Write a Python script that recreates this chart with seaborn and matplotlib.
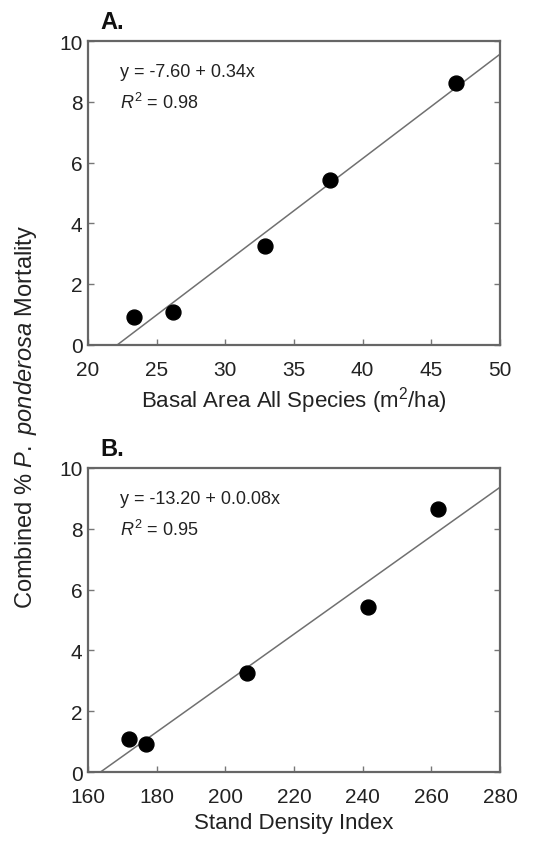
import numpy as np
import pandas as pd
import seaborn as sns
import matplotlib.pyplot as plt

# values
mortality_a = [0.9, 1.08, 3.26, 5.41, 8.63]
basal_area = [23.35, 26.2, 32.87, 37.65, 46.8]
mortality_b = [1.1, 0.93, 3.27, 5.43, 8.64]
sdi = [171.9, 177.0, 206.2, 241.6, 262.0]

eq_a = ["y = -7.60 + 0.34x", "$R^2$ = 0.98"]
eq_b = ["y = -13.20 + 0.0.08x", "$R^2$ = 0.95"]

sns.set_theme(style="ticks")
plt.rcParams['font.family'] = ['Liberation Sans', 'DejaVu Sans']
plt.rcParams['mathtext.fontset'] = 'custom'
plt.rcParams['mathtext.rm'] = 'Liberation Sans'
plt.rcParams['mathtext.it'] = 'Liberation Sans:italic'

df_a = pd.DataFrame({"x": basal_area, "y": mortality_a})
df_b = pd.DataFrame({"x": sdi, "y": mortality_b})

fig = plt.figure(figsize=(5.5, 8.45), dpi=100)
ax_a = fig.add_axes([0.16, 0.591, 0.749, 0.359])
ax_b = fig.add_axes([0.16, 0.085, 0.749, 0.36])

def panel(ax, df, xlim, xticks, xlabel, eq, tag):
    ax.set_xlim(xlim)
    ax.set_ylim(0, 10)
    sns.regplot(data=df, x="x", y="y", ax=ax, ci=None, truncate=False,
                scatter_kws=dict(s=115, color="black", alpha=1, zorder=3),
                line_kws=dict(color="#707070", lw=1.1))
    ax.set_xlim(xlim)
    ax.set_ylim(0, 10)
    ax.set_xticks(xticks)
    ax.set_yticks([0, 2, 4, 6, 8, 10])
    ax.set_xlabel(xlabel, fontsize=16, color="#222222", labelpad=4)
    ax.set_ylabel("")
    ax.tick_params(direction="in", length=4, width=1, color="#777777",
                   labelsize=15, labelcolor="#222222", right=True)
    ax.tick_params(axis="y", pad=4)
    ax.tick_params(axis="x", pad=11)
    for sp in ax.spines.values():
        sp.set_color("#666666")
        sp.set_linewidth(1.6)
    ax.text(0.078, 0.9, eq[0], transform=ax.transAxes, fontsize=13,
            color="#222222", va="center")
    ax.text(0.078, 0.8, eq[1], transform=ax.transAxes, fontsize=13,
            color="#222222", va="center")
    ax.text(0.03, 1.065, tag, transform=ax.transAxes, fontsize=17,
            fontweight="bold", va="center", color="#111111")

panel(ax_a, df_a, (20, 50), [20, 25, 30, 35, 40, 45, 50],
      "Basal Area All Species (m$^2$/ha)", eq_a, "A.")
panel(ax_b, df_b, (160, 280), [160, 180, 200, 220, 240, 260, 280],
      "Stand Density Index", eq_b, "B.")

fig.text(0.047, 0.506, "Combined % $\\it{P.\\ ponderosa}$ Mortality",
         rotation=90, va="center", ha="center", fontsize=17, color="#222222")

plt.savefig("out.png", dpi=100)
